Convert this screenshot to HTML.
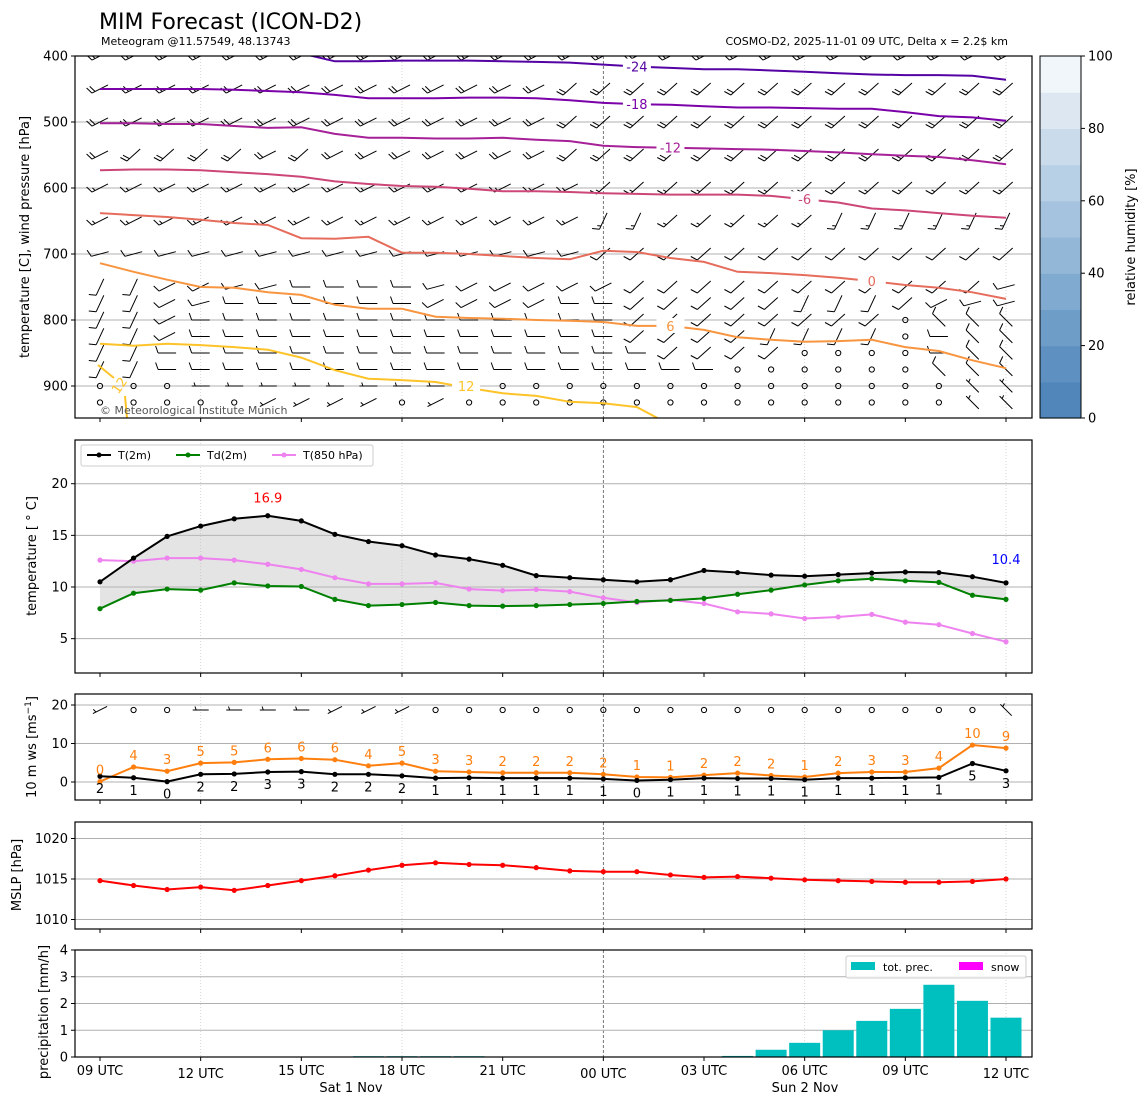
<!DOCTYPE html>
<html><head><meta charset="utf-8"><title>MIM Forecast (ICON-D2)</title>
<style>
html,body{margin:0;padding:0;background:#fff;}
svg{display:block;font-family:"DejaVu Sans","Liberation Sans",sans-serif;}
.tk{font-size:13px;fill:#000;}
</style></head>
<body>
<svg id="chart" width="1148" height="1105" viewBox="0 0 1148 1105" xmlns="http://www.w3.org/2000/svg">
<defs>
<clipPath id="c1"><rect x="75" y="56" width="957" height="362"/></clipPath>
<clipPath id="c2"><rect x="75" y="440" width="957" height="233"/></clipPath>
<clipPath id="c3"><rect x="75" y="694" width="957" height="106"/></clipPath>
<clipPath id="c4"><rect x="75" y="822" width="957" height="107"/></clipPath>
<clipPath id="c5"><rect x="75" y="950" width="957" height="107"/></clipPath>
</defs>
<text x="99" y="29" font-size="22">MIM Forecast (ICON-D2)</text>
<text x="101" y="45" font-size="11">Meteogram @11.57549, 48.13743</text>
<text x="1008" y="45" font-size="11" text-anchor="end">COSMO-D2, 2025-11-01 09 UTC, Delta x = 2.2$ km</text>

<g id="grids"></g>
<g id="marks"></g>

<rect x="75" y="56" width="957" height="362" fill="none" stroke="#000" stroke-width="1.2"/>
<rect x="75" y="440" width="957" height="233" fill="none" stroke="#000" stroke-width="1.2"/>
<rect x="75" y="694" width="957" height="106" fill="none" stroke="#000" stroke-width="1.2"/>
<rect x="75" y="822" width="957" height="107" fill="none" stroke="#000" stroke-width="1.2"/>
<rect x="75" y="950" width="957" height="107" fill="none" stroke="#000" stroke-width="1.2"/>

<text transform="translate(29,237) rotate(-90)" font-size="13" text-anchor="middle">temperature [C], wind pressure [hPa]</text>
<text transform="translate(36,556) rotate(-90)" font-size="13" text-anchor="middle">temperature [ ° C]</text>
<text transform="translate(36,747) rotate(-90)" font-size="13" text-anchor="middle">10 m ws [ms<tspan font-size="9" dy="-5">−1</tspan><tspan dy="5">]</tspan></text>
<text transform="translate(21,875) rotate(-90)" font-size="13" text-anchor="middle">MSLP [hPa]</text>
<text transform="translate(48,1012) rotate(-90)" font-size="13" text-anchor="middle">precipitation [mm/h]</text>

<text x="100" y="414" font-size="11" fill="#555">© Meteorological Institute Munich</text>

<g id="cbar"></g>
<text transform="translate(1135,237) rotate(-90)" font-size="13" text-anchor="middle">relative humidity [%]</text>

<g>
<rect x="81" y="445" width="292" height="21" rx="2" fill="#fff" fill-opacity="0.85" stroke="#ccc"/>
<g><line x1="87" y1="455" x2="111" y2="455" stroke="#000" stroke-width="2"/><circle cx="99" cy="455" r="2.5"/><text x="118" y="459" font-size="11">T(2m)</text></g>
<g><line x1="176" y1="455" x2="200" y2="455" stroke="green" stroke-width="2"/><circle cx="188" cy="455" r="2.5" fill="green"/><text x="207" y="459" font-size="11">Td(2m)</text></g>
<g><line x1="272" y1="455" x2="296" y2="455" stroke="violet" stroke-width="2"/><circle cx="284" cy="455" r="2.5" fill="violet"/><text x="303" y="459" font-size="11">T(850 hPa)</text></g>
</g>

<g>
<rect x="846" y="956" width="180" height="22" rx="2" fill="#fff" fill-opacity="0.85" stroke="#ccc"/>
<g><rect x="851" y="962" width="24" height="8" fill="#00bfbf"/><text x="883" y="971" font-size="11">tot. prec.</text></g>
<g><rect x="959" y="962" width="24" height="8" fill="#ff00ff"/><text x="991" y="971" font-size="11">snow</text></g>
</g>

<text x="351" y="1092" font-size="13" text-anchor="middle">Sat 1 Nov</text>
<text x="805" y="1092" font-size="13" text-anchor="middle">Sun 2 Nov</text>
</svg>

<script>
// ---- data ----
const t2m  = [10.5,12.8,14.9,15.9,16.6,16.9,16.4,15.1,14.4,14.0,13.1,12.7,12.1,11.1,10.9,10.7,10.5,10.7,11.6,11.4,11.15,11.05,11.2,11.35,11.45,11.4,11.0,10.4];
const td2m = [7.9,9.4,9.8,9.7,10.4,10.1,10.05,8.8,8.2,8.3,8.5,8.2,8.15,8.2,8.3,8.4,8.6,8.7,8.9,9.3,9.7,10.2,10.6,10.8,10.6,10.45,9.2,8.8];
const t850 = [12.6,12.5,12.8,12.8,12.6,12.2,11.7,10.9,10.3,10.3,10.4,9.8,9.65,9.75,9.55,8.95,8.5,8.75,8.4,7.6,7.4,6.95,7.1,7.35,6.6,6.35,5.5,4.7];
const windSpeed = [1.5,1.1,0.1,2.0,2.1,2.6,2.7,2.0,2.0,1.6,1.0,1.1,1.0,1.0,1.0,0.8,0.4,0.6,1.0,0.9,0.9,0.6,1.0,1.0,1.1,1.2,4.8,2.9];
const windGust  = [0.1,3.9,2.8,4.9,5.1,5.9,6.1,5.8,4.2,4.9,2.8,2.6,2.4,2.4,2.4,2.0,1.3,1.2,1.8,2.3,1.7,1.3,2.3,2.6,2.6,3.6,9.6,8.8];
const mslp = [1014.8,1014.2,1013.7,1014.0,1013.6,1014.2,1014.8,1015.4,1016.1,1016.7,1017.0,1016.8,1016.7,1016.4,1016.0,1015.9,1015.9,1015.5,1015.2,1015.3,1015.1,1014.9,1014.8,1014.7,1014.6,1014.6,1014.7,1015.0];
const precip = [0,0,0,0,0,0,0,0,0.03,0.03,0.03,0.03,0,0,0,0,0,0,0.01,0.04,0.27,0.53,1.0,1.35,1.8,2.7,2.1,1.47];
const isoLevels = [-24,-18,-12,-6,0,6,12];
const isoM24 = [395,395,395,395,395,395,396,408,408,407,407,407,408,409,410,413,416,418,420,420,422,424,426,428,429,429,430,436];
const isoM18 = [450,450,450,450,451,453,455,459,464,464,464,463,463,464,467,471,473,474,476,478,478,479,480,480,485,491,493,498];
const isoM12 = [502,502,503,503,506,509,508,518,524,524,525,525,524,527,529,536,538,539,540,541,542,544,546,549,551,553,558,564];
const isoM6  = [573,572,572,573,576,579,583,590,594,597,598,601,605,605,606,608,609,610,610,610,612,617,622,631,634,638,642,645];
const iso0   = [638,641,644,648,653,656,676,677,674,698,698,700,703,706,708,695,697,706,712,727,729,732,736,741,747,751,758,768];
const iso6   = [714,727,739,750,751,758,762,777,783,783,795,797,798,800,801,803,809,809,815,826,830,833,832,830,841,847,861,873];
const iso12  = [836,839,836,838,841,845,857,876,889,891,894,903,911,915,924,926,932,959,990,990,990,990,990,990,990,990,990,990];
const isoLabelIdx = [16,16,17,21,23,17,11];
const barbLevels = [400,450,500,550,600,650,700,750,775,800,825,850,875,900,925];
const barbDirs = [
 "aaaaaaa aaaaaaa aaaaaaa aaaaaaa","aaaaaaa aaaaaaa bbbbbbb bbbbbbb","aaaaaaa aaaaaaa bbbbbbb bbbbbbb",
 "abbbbab aaaaaaa bbbbbbb bbbbbbb","aaaaaaa aaaaaaa abbbbbb bbbbbbb","aaaaaaa aaaaaaa accbbbb bcccccc",
 "ggggggg ggggggg gbbbbbb bbbbbbb","ccaaggh hhhgaaa aabbbbb bbbbbbg","ccaghhh hhhaaaa hhbbbbb cccbagg",
 "ccahhhh hhhhhhh hhbbbbb bbbonnn","ccahhhh hhhhhhh hhbbbbc cccohnn","cchhhhh hhhhhhh hhhbbbb oooohnn",
 "cchhhhh hhhhhhh hhhhhoo oooonnn","ooohhhh hhhhhoo ooooooo ooooonn","oooooaa aaoaooo ooooooo ooooonn"];
const barbHalves = [5,4,4,4,3,3,2,2,2,2,2,2,2,1,1];
const surfaceDirs = "aoohhhh aaaoooo ooooooo oooooonn";
const xTickLabels = ["09 UTC","12 UTC","15 UTC","18 UTC","21 UTC","00 UTC","03 UTC","06 UTC","09 UTC","12 UTC"];
const rhColors = ["#5086b9","#5e91c1","#6e9dc8","#80aad0","#93b7d7","#a5c3de","#b8d0e5","#cadcec","#dce7f2","#f1f6fb"];

// ---- scales ----
const NS="http://www.w3.org/2000/svg";
const G=document.getElementById('grids'), M=document.getElementById('marks');
const X=i=>100+i*(906/27);
const P=p=>56+(p-400)*0.66;
const TY=v=>587-(v-10)*10.33;
const WY=v=>782-v*3.85;
const MY=v=>879-(v-1015)*8.1;
const RY=v=>1057-v*26.75;
function mk(tag,attrs,parent){const e=document.createElementNS(NS,tag);for(const k in attrs)e.setAttribute(k,attrs[k]);parent.appendChild(e);return e;}
function poly(arr,f){return arr.map((v,i)=>X(i).toFixed(1)+','+f(v).toFixed(1)).join(' ');}

// ---- grids & ticks ----
const panels=[[56,418],[440,673],[694,800],[822,929],[950,1057]];
panels.forEach((pn)=>{
  for(let i=3;i<28;i+=6){
    const l=mk('line',{x1:X(i),x2:X(i),y1:pn[0],y2:pn[1],stroke:i===15?'#555':'#ccc','stroke-width':0.8,'stroke-dasharray':i===15?'3,2':'1,2'},G);
    
    
  }
  for(let i=0;i<28;i+=3){
    const t=mk('line',{x1:X(i),x2:X(i),y1:pn[1],y2:pn[1]+4,stroke:'#000'},G);
    
    
  }
});
function yAxis(vals,f,grid,name){
  vals.forEach(v=>{
    const y=f(v);
    if(grid){const g=mk('line',{x1:75,x2:1032,y1:y,y2:y,stroke:'#b0b0b0','stroke-width':1},G);
      
      }
    const t=mk('line',{x1:71,x2:75,y1:y,y2:y,stroke:'#000'},G);
    
    
    const tx=mk('text',{x:68,y:y+4.5,'text-anchor':'end',class:'tk'},G);
    tx.textContent=v;
    
    
  });
}
yAxis([400,500,600,700,800,900],P,true,'pressure');
yAxis([5,10,15,20],TY,true,'temperature');
yAxis([0,10,20],WY,true,'wind');
yAxis([1010,1015,1020],MY,true,'mslp');
yAxis([0,1,2,3,4],RY,true,'precip');
xTickLabels.forEach((s,k)=>{
  const i=k*3;const low=(s==="12 UTC"||s==="00 UTC");
  const t=mk('text',{x:X(i),y:low?1078:1075,'text-anchor':'middle',class:'tk'},G);
  t.textContent=s;
  
  
});

// ---- colorbar ----
const CB=document.getElementById('cbar');
rhColors.forEach((c,k)=>{
  const y0=418-(k+1)*36.2;
  const r=mk('rect',{x:1040,y:y0,width:41,height:36.8,fill:c},CB);
  
  
});
const cbf=mk('rect',{x:1040,y:56,width:41,height:362,fill:'none',stroke:'#000','stroke-width':1},CB);


[0,20,40,60,80,100].forEach(v=>{
  const y=418-v*3.62;
  const t=mk('line',{x1:1081,x2:1085,y1:y,y2:y,stroke:'#000'},CB);
  
  
  const tx=mk('text',{x:1088,y:y+4.5,class:'tk'},CB);
  tx.textContent=v;
  
  
});

// ---- wind barbs (pivot middle) ----
const angMap={a:207,b:222,c:245,g:195,h:180,n:135};
function barb(parent,x,y,code,halves,L){
  if(code==='o'){const c=mk('circle',{cx:x,cy:y,r:2.6,fill:'none',stroke:'#000','stroke-width':1},parent);
    
    return;}
  const a=angMap[code]*Math.PI/180;const dx=Math.cos(a),dy=-Math.sin(a);
  const sx=x-dx*L/2,sy=y-dy*L/2;
  const ex=x+dx*L/2,ey=y+dy*L/2;const px=-dy,py=dx;
  let d=`M${sx.toFixed(1)},${sy.toFixed(1)}L${ex.toFixed(1)},${ey.toFixed(1)}`;
  let full=Math.floor(halves/2),half=halves%2,pos=0;
  for(let k=0;k<full;k++){const bx=ex-dx*pos,by=ey-dy*pos;
    d+=`M${bx.toFixed(1)},${by.toFixed(1)}l${(px*7+dx*2.5).toFixed(1)},${(py*7+dy*2.5).toFixed(1)}`;pos+=3.5;}
  if(half){if(full===0)pos=3.5;const bx=ex-dx*pos,by=ey-dy*pos;
    d+=`M${bx.toFixed(1)},${by.toFixed(1)}l${(px*3.5+dx*1.2).toFixed(1)},${(py*3.5+dy*1.2).toFixed(1)}`;}
  const p=mk('path',{d:d,fill:'none',stroke:'#000','stroke-width':1},parent);
  
  
}
const g1=mk('g',{'clip-path':'url(#c1)'},M);


barbLevels.forEach((lev,r)=>{
  const codes=barbDirs[r].replace(/ /g,'');
  for(let i=0;i<28;i++) barb(g1,X(i),P(lev),codes[i],barbHalves[r],18);
});

// ---- isotherms ----
const isoData=[isoM24,isoM18,isoM12,isoM6,iso0,iso6,iso12];
const isoColors=['#5402a3','#7b02a8','#a62098','#cc4778','#e66c5c','#f89540','#fdc328'];
isoData.forEach((arr,k)=>{
  const pl=mk('polyline',{points:poly(arr,P),fill:'none',stroke:isoColors[k],'stroke-width':2},g1);
  
  
  const li=isoLabelIdx[k];const lx=X(li)+(k===6?-3:0),ly=P(arr[li])+(k===6?-2:0);
  const bg=mk('rect',{x:lx-14,y:ly-8,width:28,height:15,fill:'#fff'},g1);
  
  
  const t=mk('text',{x:lx,y:ly+5,'text-anchor':'middle','font-size':13,fill:isoColors[k]},g1);
  t.textContent=isoLevels[k];
  
  
});
const frag=mk('path',{d:'M98,365L114,378M125,396L127,418',stroke:'#fdc328','stroke-width':2,fill:'none'},g1);


const fl=mk('text',{transform:'translate(123,388) rotate(-55)','text-anchor':'middle','font-size':13,fill:'#fdc328'},g1);
fl.textContent='12';



// ---- temperature panel ----
const g2=mk('g',{'clip-path':'url(#c2)'},M);


const fillPts=t2m.map((v,i)=>X(i)+','+TY(v)).concat(td2m.map((v,i)=>X(i)+','+TY(v)).reverse()).join(' ');
const fb=mk('polygon',{points:fillPts,fill:'#bbbbbb','fill-opacity':0.4},g2);


function series(parent,arr,f,color,name){
  const pl=mk('polyline',{points:poly(arr,f),fill:'none',stroke:color,'stroke-width':2},parent);
  
  
  arr.forEach((v,i)=>{const c=mk('circle',{cx:X(i),cy:f(v),r:2.6,fill:color},parent);
    
    });
}
series(g2,t850,TY,'violet','t850');
series(g2,td2m,TY,'green','td2m');
series(g2,t2m,TY,'#000','t2m');
let imax=0,imin=0;t2m.forEach((v,i)=>{if(v>t2m[imax])imax=i;if(v<t2m[imin])imin=i;});
const mxl=mk('text',{x:X(imax),y:TY(t2m[imax])-13,'text-anchor':'middle','font-size':13,fill:'red'},M);
mxl.textContent=t2m[imax].toFixed(1);


const mnl=mk('text',{x:X(imin),y:TY(t2m[imin])-19,'text-anchor':'middle','font-size':13,fill:'blue'},M);
mnl.textContent=t2m[imin].toFixed(1);



// ---- wind panel ----
const g3=mk('g',{'clip-path':'url(#c3)'},M);


const sc=surfaceDirs.replace(/ /g,'');
for(let i=0;i<28;i++) barb(g3,X(i),710,sc[i],1,16);
series(g3,windGust,WY,'#ff7f0e','wind-gust');
series(g3,windSpeed,WY,'#000','wind-speed');
windGust.forEach((v,i)=>{const t=mk('text',{x:X(i),y:WY(v)-7,'text-anchor':'middle','font-size':13,fill:'#ff7f0e'},M);
  t.textContent=Math.round(v);
  
  });
windSpeed.forEach((v,i)=>{const t=mk('text',{x:X(i),y:WY(v)+17,'text-anchor':'middle','font-size':13,fill:'#000'},M);
  t.textContent=Math.round(v);
  
  });

// ---- mslp ----
const g4=mk('g',{'clip-path':'url(#c4)'},M);


series(g4,mslp,MY,'red','mslp');

// ---- precip ----
const g5=mk('g',{'clip-path':'url(#c5)'},M);


precip.forEach((v,i)=>{if(v<=0)return;
  const y=RY(v);const b=mk('rect',{x:X(i)-15.5,y:y,width:31,height:Math.max(1057-y,0.8),fill:'#00bfbf'},g5);
  
  });
</script>
</body></html>
